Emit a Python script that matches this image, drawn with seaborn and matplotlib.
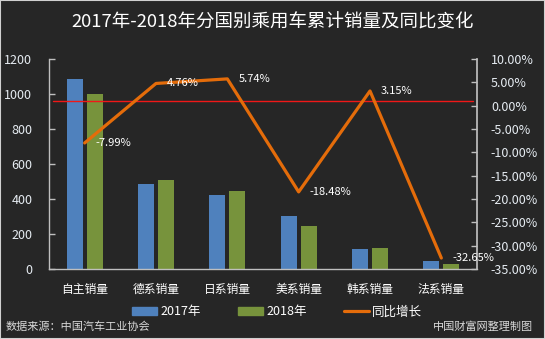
import numpy as np
import pandas as pd
import matplotlib
matplotlib.use("Agg")
import matplotlib.pyplot as plt
import seaborn as sns
from matplotlib.patches import Patch
from matplotlib.lines import Line2D
from matplotlib.ticker import FuncFormatter, MultipleLocator

categories = ["自主销量", "德系销量", "日系销量", "美系销量", "韩系销量", "法系销量"]
sales_2017 = [1085, 486, 423, 303, 114, 46]
sales_2018 = [998, 509, 447, 247, 118, 31]
growth = [-7.99, 4.76, 5.74, -18.48, 3.15, -32.65]
growth_labels = ["-7.99%", "4.76%", "5.74%", "-18.48%", "3.15%", "-32.65%"]
series_names = ["2017年", "2018年"]

BG = "#262626"
BLUE = "#4F81BD"
GREEN = "#77933C"
ORANGE = "#E46C0A"
RED = "#F01818"
TXT = "#E6ECF2"
SPINE = "#BFBFBF"

sns.set_theme(style="dark")
plt.rcParams["font.family"] = ["Noto Sans CJK SC", "DejaVu Sans"]
plt.rcParams["axes.unicode_minus"] = False

df = pd.DataFrame({
    "cat": categories * 2,
    "val": sales_2017 + sales_2018,
    "year": [series_names[0]] * 6 + [series_names[1]] * 6,
})

fig = plt.figure(figsize=(5.45, 3.39), dpi=100, facecolor=BG)
fig.patches.append(plt.Rectangle((0, 0), 1, 1, transform=fig.transFigure,
                                 fill=False, edgecolor="#D0D0D0", lw=1.5))
ax = fig.add_axes([49/545, 1-269/339, (477-49)/545, 210/339])
ax.set_facecolor(BG)

sns.barplot(data=df, x="cat", y="val", hue="year", order=categories,
            palette=[BLUE, GREEN], width=0.56, gap=0.2, ax=ax,
            legend=False, saturation=1, edgecolor="none")
ax.set_xlim(-0.5, 5.5)
ax.set_ylim(0, 1200)
ax.yaxis.set_major_locator(MultipleLocator(200))
ax.set_xlabel("")
ax.set_ylabel("")
ax.grid(False)

for s in ["top", "right"]:
    ax.spines[s].set_visible(False)
ax.spines["left"].set_color(SPINE)
ax.spines["bottom"].set_color(SPINE)
ax.spines["left"].set_linewidth(1)
ax.spines["bottom"].set_linewidth(1)
ax.tick_params(axis="y", direction="in", length=4, width=1, color=SPINE,
               labelcolor=TXT, labelsize=9, pad=12, left=True)
ax.tick_params(axis="x", length=0, labelcolor="white", labelsize=8.5, pad=10)

ax2 = ax.twinx()
ax2.set_ylim(-35, 10)
ax2.yaxis.set_major_locator(MultipleLocator(5))
ax2.yaxis.set_major_formatter(FuncFormatter(lambda v, p: f"{v:.2f}%"))
ax2.axhline(0.95, xmin=0.01, xmax=0.99, color=RED, lw=1.0)
sns.lineplot(x=np.arange(len(categories)), y=growth, ax=ax2, color=ORANGE,
             lw=2.3, legend=False)
ax2.set_xlim(-0.5, 5.5)
for i, (g, lab) in enumerate(zip(growth, growth_labels)):
    ax2.annotate(lab, (i, g), xytext=(8, 0), textcoords="offset points",
                 va="center", ha="left", color="white", fontsize=8)
for s in ["top", "left", "bottom"]:
    ax2.spines[s].set_visible(False)
ax2.spines["right"].set_color(SPINE)
ax2.tick_params(axis="y", direction="in", length=4, width=1, color=SPINE,
                labelcolor=TXT, labelsize=9, pad=10, right=True)
ax2.grid(False)

fig.text(0.5, 1-22/339, "2017年-2018年分国别乘用车累计销量及同比变化",
         ha="center", va="center", color="white", fontsize=13.3)

handles = [Patch(color=BLUE), Patch(color=GREEN),
           Line2D([0], [0], color=ORANGE, lw=2.3)]
fig.legend(handles, ["2017年", "2018年", "同比增长"], loc="center",
           bbox_to_anchor=(277/545, 1-312/339), ncol=3, frameon=False,
           labelcolor="white", fontsize=9, handlelength=2.0, handleheight=0.6,
           handletextpad=0.25, columnspacing=3.0)

fig.text(6/545, 1-327/339, "数据来源：中国汽车工业协会", ha="left", va="center",
         color="#D9D9D9", fontsize=8, style="italic")
fig.text(533/545, 1-327/339, "中国财富网整理制图", ha="right", va="center",
         color="#D9D9D9", fontsize=8, style="italic")

fig.savefig("out.png", dpi=100, facecolor=BG)
